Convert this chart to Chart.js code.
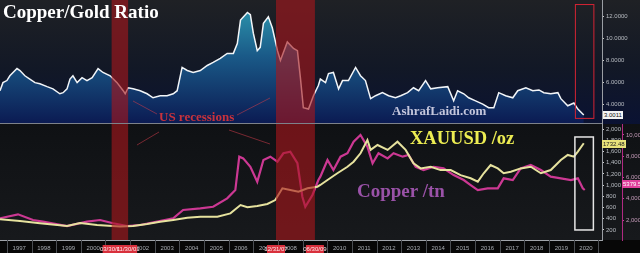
<!DOCTYPE html>
<html lang="en">
<head>
<meta charset="UTF-8">
<title>Copper/Gold Ratio</title>
<script src="https://cdn.jsdelivr.net/npm/chart.js"></script>
<style>
    body { margin: 0; background: #000; }
    #wrap { position: relative; width: 640px; height: 253px; overflow: hidden; }
    canvas { position: absolute; left: 0; }
    #topChart { top: 0; }
    #bottomChart { top: 124px; }
    svg { position: absolute; left: 0; top: 0; }
    .txt {
        position: absolute;
        font-family: "Liberation Serif", "DejaVu Serif", serif;
        font-weight: bold;
        line-height: 1;
        white-space: nowrap;
    }
    .tag {
        position: absolute;
        font-family: "Liberation Sans", Arial, sans-serif;
        font-size: 6px;
        line-height: 8px;
        height: 8px;
        padding: 0 1px;
        white-space: nowrap;
    }
</style>
</head>
<body>
<div id="wrap">
    <canvas id="topChart" width="640" height="124"></canvas>
    <canvas id="bottomChart" width="640" height="129"></canvas>
    <svg width="640" height="253">
        <g stroke="rgba(205,60,75,0.55)" stroke-width="1">
            <line x1="133" y1="101" x2="157" y2="114"/>
            <line x1="137" y1="145" x2="159" y2="132"/>
            <line x1="237" y1="115" x2="270" y2="98"/>
            <line x1="229" y1="130" x2="270" y2="144"/>
        </g>
    </svg>
    <div class="txt" style="left:3px;top:2px;font-size:19px;color:#ffffff">Copper/Gold Ratio</div>
    <div class="txt" style="left:159px;top:110px;font-size:13px;color:#c8323c">US recessions</div>
    <div class="txt" style="left:392px;top:104px;font-size:13px;color:#c4c6dc">AshrafLaidi.com</div>
    <div class="txt" style="left:410px;top:129px;font-size:18.5px;color:#ecec52">XAUUSD /oz</div>
    <div class="txt" style="left:357px;top:181px;font-size:19px;color:#9a52a8">Copper /tn</div>
    <div class="tag" id="ratioTag" style="background:#f4f4f4;color:#111">3.0011</div>
    <div class="tag" id="goldTag" style="background:#e8e27a;color:#222">1732.48</div>
    <div class="tag" id="copperTag" style="background:#e0409c;color:#fff">5379.50</div>
</div>
<script>
    // x axis runs in decimal years
    const xMin = 1996.72;
    const xMax = 2021.15;
    const tickYears = [1997, 1998, 1999, 2000, 2001, 2002, 2003, 2004, 2005, 2006, 2007, 2008,
        2009, 2010, 2011, 2012, 2013, 2014, 2015, 2016, 2017, 2018, 2019, 2020];

    // US recessions
    const recessionStart = [2001.25, 2007.92];
    const recessionEnd = [2001.92, 2009.5];
    const recessionStartLabels = ["03/30/01", "12/31/07"];
    const recessionEndLabels = ["11/30/01", "06/30/09"];

    // highlighted latest period
    const highlightFrom = 2020.05;
    const highlightTo = 2020.8;

    // Copper/Gold ratio
    const ratioYears = [1996.72, 1996.84, 1997.00, 1997.12, 1997.41, 1997.53, 1997.73, 1997.93, 1998.14, 1998.34,
        1998.63, 1998.87, 1999.15, 1999.28, 1999.44, 1999.56, 1999.68, 1999.85, 2000.05, 2000.25,
        2000.46, 2000.70, 2000.90, 2001.19, 2001.47, 2001.72, 2001.80, 2001.92, 2002.12, 2002.41,
        2002.69, 2002.93, 2003.22, 2003.50, 2003.75, 2003.91, 2004.11, 2004.32, 2004.56, 2004.85,
        2005.13, 2005.37, 2005.66, 2005.94, 2006.19, 2006.35, 2006.48, 2006.76, 2006.88, 2007.00,
        2007.16, 2007.28, 2007.41, 2007.61, 2007.77, 2007.98, 2008.10, 2008.38, 2008.63, 2008.79,
        2008.91, 2009.03, 2009.24, 2009.44, 2009.64, 2009.72, 2009.93, 2010.05, 2010.25, 2010.46,
        2010.62, 2010.86, 2011.15, 2011.35, 2011.55, 2011.76, 2011.96, 2012.24, 2012.49, 2012.77,
        2012.98, 2013.26, 2013.50, 2013.71, 2013.99, 2014.20, 2014.48, 2014.89, 2015.13, 2015.29,
        2015.54, 2015.74, 2016.02, 2016.31, 2016.55, 2016.76, 2016.96, 2017.24, 2017.53, 2017.73,
        2018.06, 2018.34, 2018.59, 2018.79, 2019.07, 2019.36, 2019.48, 2019.76, 2020.01, 2020.17,
        2020.41];
    const ratioValues = [5.23, 5.97, 6.16, 6.6, 7.26, 7.08, 6.6, 6.3, 5.97, 5.87,
        5.6, 5.4, 4.95, 5.05, 5.4, 6.3, 6.6, 5.97, 6.43, 6.16,
        6.43, 7.26, 6.9, 6.6, 5.97, 5.23, 4.95, 5.5, 5.4, 5.23,
        4.95, 4.58, 4.77, 4.77, 4.95, 5.23, 7.36, 7.08, 6.9, 7.08,
        7.54, 7.82, 8.2, 8.65, 8.65, 9.55, 11.7, 12.4, 12.2, 10.5,
        8.9, 9.2, 11.4, 12.0, 11.0, 8.9, 8.0, 9.7, 9.1, 8.9,
        6.43, 3.67, 3.55, 4.77, 5.7, 6.3, 5.97, 6.8, 6.9, 5.4,
        6.16, 6.16, 7.36, 6.6, 6.16, 4.5, 4.77, 5.05, 4.77, 4.58,
        4.77, 5.05, 5.5, 5.23, 6.16, 5.4, 5.5, 5.6, 4.3, 5.23,
        4.95, 4.58, 4.3, 4.0, 3.67, 3.67, 5.05, 4.77, 4.58, 5.23,
        5.5, 5.23, 5.3, 5.05, 4.95, 5.05, 4.5, 3.85, 4.1, 3.55,
        3.0];
    const ratioTicks = [4, 6, 8, 10, 12];

    // Gold, USD per ounce
    const goldYears = [1996.72, 1997.53, 1998.34, 1999.44, 1999.97, 2000.66, 2001.59, 2002.12, 2002.69, 2003.22,
        2003.75, 2004.32, 2004.85, 2005.54, 2006.07, 2006.48, 2006.76, 2007.16, 2007.57, 2007.89,
        2008.18, 2008.50, 2008.83, 2009.20, 2009.60, 2009.72, 2010.01, 2010.41, 2010.82, 2011.07,
        2011.35, 2011.63, 2011.76, 2012.04, 2012.45, 2012.85, 2013.18, 2013.50, 2013.79, 2014.20,
        2014.60, 2015.01, 2015.41, 2015.82, 2016.11, 2016.35, 2016.63, 2016.92, 2017.16, 2017.45,
        2017.85, 2018.26, 2018.67, 2019.07, 2019.48, 2019.76, 2020.01, 2020.17, 2020.41];
    const goldValues = [391, 360, 320, 271, 325, 290, 260, 270, 307, 348,
        380, 420, 437, 437, 497, 646, 605, 630, 665, 735,
        945, 915, 884, 945, 973, 1004, 1093, 1213, 1330, 1420,
        1570, 1807, 1630, 1718, 1630, 1777, 1630, 1390, 1300, 1330,
        1270, 1270, 1180, 1123, 1063, 1213, 1360, 1300, 1213, 1240,
        1300, 1330, 1213, 1270, 1450, 1540, 1510, 1600, 1750];
    const goldTicks = [200, 400, 600, 800, 1000, 1200, 1400, 1600, 1800, 2000];

    // Copper, USD per tonne
    const copperYears = [1996.72, 1997.45, 1998.06, 1998.46, 1999.44, 2000.25, 2000.78, 2001.31, 2001.88, 2002.41,
        2003.10, 2003.75, 2004.15, 2004.85, 2005.37, 2005.94, 2006.27, 2006.43, 2006.59, 2006.88,
        2007.16, 2007.41, 2007.69, 2007.98, 2008.22, 2008.50, 2008.79, 2008.99, 2009.11, 2009.40,
        2009.64, 2009.72, 2010.01, 2010.25, 2010.54, 2010.82, 2011.07, 2011.35, 2011.63, 2011.84,
        2012.08, 2012.45, 2012.69, 2013.06, 2013.30, 2013.59, 2013.91, 2014.32, 2014.72, 2015.13,
        2015.54, 2015.82, 2016.11, 2016.51, 2016.92, 2017.16, 2017.53, 2017.85, 2018.26, 2018.67,
        2019.07, 2019.48, 2019.89, 2020.17, 2020.37, 2020.45];
    const copperValues = [2160, 2536, 2000, 1840, 1435, 1840, 2000, 1690, 1435, 1530,
        1840, 2160, 2940, 3100, 3250, 4040, 4820, 7960, 7800, 7000,
        5600, 7650, 7960, 7490, 8280, 8430, 7340, 4190, 3250, 4350,
        5760, 6080, 7650, 6700, 7960, 8280, 9370, 10000, 8900, 7340,
        8280, 7800, 8280, 7960, 8120, 7010, 6700, 7010, 6860, 6230,
        5760, 5290, 4820, 4980, 4980, 5920, 5760, 6860, 7180, 6700,
        6080, 5920, 5760, 5920, 4980, 4820];
    const copperTicks = [2000, 4000, 6000, 8000, 10000];

    const tickFont = { family: "Liberation Sans", size: 6 };

    function points(xs, ys) {
        return xs.map((x, i) => ({ x: x, y: ys[i] }));
    }

    function fixedTicks(list) {
        return scale => { scale.ticks = list.map(v => ({ value: v })); };
    }

    function fixWidth(w) {
        return scale => {
            scale.width = w;
            scale.paddingTop = 0;
            scale.paddingBottom = 0;
        };
    }

    function drawRecessions(chart) {
        const c = chart.ctx;
        const area = chart.chartArea;
        const xs = chart.scales.x;
        c.save();
        c.fillStyle = "rgba(168, 22, 28, 0.62)";
        recessionStart.forEach((s, i) => {
            const x0 = xs.getPixelForValue(s);
            const x1 = xs.getPixelForValue(recessionEnd[i]);
            c.fillRect(x0, area.top, x1 - x0, area.bottom - area.top);
        });
        c.restore();
    }

    const topPlugin = {
        id: "topPanel",
        beforeDraw(chart) {
            const c = chart.ctx;
            const g = c.createLinearGradient(0, 0, 0, chart.height);
            g.addColorStop(0, "#1f2125");
            g.addColorStop(0.55, "#121826");
            g.addColorStop(1, "#0a1233");
            c.save();
            c.fillStyle = g;
            c.fillRect(0, 0, chart.width, chart.height);
            c.restore();
        },
        afterDatasetsDraw(chart) {
            drawRecessions(chart);
        },
        afterDraw(chart) {
            const c = chart.ctx;
            const xs = chart.scales.x;
            const ys = chart.scales.y;
            c.save();
            // panel separator
            c.strokeStyle = "#7d828a";
            c.lineWidth = 1;
            c.beginPath();
            c.moveTo(0, chart.height - 0.5);
            c.lineTo(chart.chartArea.right, chart.height - 0.5);
            c.stroke();
            // highlight box
            c.strokeStyle = "#d42434";
            const x0 = xs.getPixelForValue(highlightFrom);
            const x1 = xs.getPixelForValue(highlightTo);
            const y0 = ys.getPixelForValue(13.17);
            const y1 = ys.getPixelForValue(2.74);
            c.strokeRect(x0 + 0.5, y0 + 0.5, x1 - x0, y1 - y0);
            c.restore();
        }
    };

    const bottomPlugin = {
        id: "bottomPanel",
        beforeDraw(chart) {
            const c = chart.ctx;
            const area = chart.chartArea;
            const g = c.createLinearGradient(0, 0, 0, area.bottom);
            g.addColorStop(0, "#0f1114");
            g.addColorStop(1, "#17191c");
            c.save();
            c.fillStyle = g;
            c.fillRect(0, 0, chart.width, area.bottom);
            c.fillStyle = "#070707";
            c.fillRect(0, area.bottom, chart.width, chart.height - area.bottom);
            c.restore();
        },
        afterDatasetsDraw(chart) {
            drawRecessions(chart);
        },
        afterDraw(chart) {
            const c = chart.ctx;
            const area = chart.chartArea;
            const xs = chart.scales.x;
            const ys = chart.scales.y;
            c.save();
            // year separators in the axis band
            c.strokeStyle = "#4a4d52";
            c.lineWidth = 1;
            for (let yr = 1997; yr <= 2021; yr++) {
                const x = Math.round(xs.getPixelForValue(yr)) + 0.5;
                if (x > area.right) break;
                c.beginPath();
                c.moveTo(x, area.bottom);
                c.lineTo(x, chart.height);
                c.stroke();
            }
            // recession date tags
            c.font = "6px 'Liberation Sans'";
            c.textAlign = "center";
            c.textBaseline = "middle";
            const tags = [];
            recessionStart.forEach((s, i) => {
                tags.push([s, recessionStartLabels[i]]);
                tags.push([recessionEnd[i], recessionEndLabels[i]]);
            });
            tags.forEach(([v, label]) => {
                const x = xs.getPixelForValue(v);
                c.fillStyle = "#d8303c";
                c.fillRect(x - 9, area.bottom + 5, 18, 8);
                c.fillStyle = "#ffe8ea";
                c.fillText(label, x, area.bottom + 9);
            });
            // highlight box
            c.strokeStyle = "#e6e6e6";
            c.lineWidth = 1.5;
            const x0 = xs.getPixelForValue(highlightFrom);
            const x1 = xs.getPixelForValue(highlightTo);
            const y0 = ys.getPixelForValue(1861);
            const y1 = ys.getPixelForValue(200);
            c.strokeRect(x0, y0, x1 - x0, y1 - y0);
            c.restore();
        }
    };

    const topChart = new Chart(document.getElementById("topChart"), {
        type: "line",
        data: {
            datasets: [{
                data: points(ratioYears, ratioValues),
                borderColor: "#f2f5f8",
                borderWidth: 1.5,
                pointRadius: 0,
                tension: 0,
                fill: "start",
                backgroundColor: ctx => {
                    const area = ctx.chart.chartArea;
                    if (!area) return "rgba(20,60,110,0.8)";
                    const g = ctx.chart.ctx.createLinearGradient(0, area.top, 0, area.bottom);
                    g.addColorStop(0, "#2f9db2");
                    g.addColorStop(0.45, "#1a5a88");
                    g.addColorStop(1, "#0b1a52");
                    return g;
                }
            }]
        },
        options: {
            responsive: false,
            animation: false,
            devicePixelRatio: 1,
            layout: { padding: 0, autoPadding: false },
            plugins: { legend: { display: false }, tooltip: { enabled: false } },
            scales: {
                x: { type: "linear", min: xMin, max: xMax, display: false },
                y: {
                    position: "right",
                    min: 2.18,
                    max: 13.54,
                    afterBuildTicks: fixedTicks(ratioTicks),
                    afterFit: fixWidth(38),
                    border: { display: true, color: "#9a9ea4", width: 1 },
                    grid: { drawOnChartArea: false, drawTicks: true, tickLength: 2, color: "#c8c8c8" },
                    ticks: {
                        font: tickFont,
                        color: "#b8bcc2",
                        padding: 2,
                        callback: v => v.toFixed(4)
                    }
                }
            }
        },
        plugins: [topPlugin]
    });

    const bottomChart = new Chart(document.getElementById("bottomChart"), {
        type: "line",
        data: {
            datasets: [{
                label: "XAUUSD",
                data: points(goldYears, goldValues),
                yAxisID: "y",
                borderColor: "#e6e29e",
                borderWidth: 2,
                pointRadius: 0,
                tension: 0
            }, {
                label: "Copper",
                data: points(copperYears, copperValues),
                yAxisID: "y2",
                borderColor: "#cc3893",
                borderWidth: 2.2,
                pointRadius: 0,
                tension: 0
            }]
        },
        options: {
            responsive: false,
            animation: false,
            devicePixelRatio: 1,
            layout: { padding: 0, autoPadding: false },
            plugins: { legend: { display: false }, tooltip: { enabled: false } },
            scales: {
                x: {
                    type: "linear",
                    min: xMin,
                    max: xMax,
                    afterBuildTicks: scale => {
                        scale.ticks = tickYears.map(yr => ({ value: yr + 0.5 }));
                    },
                    afterFit: scale => {
                        scale.height = 13;
                        scale.paddingLeft = 0;
                        scale.paddingRight = 0;
                    },
                    border: { display: true, color: "#a0a4aa", width: 1 },
                    grid: { drawOnChartArea: false, drawTicks: false, color: "rgba(0,0,0,0)" },
                    ticks: {
                        font: tickFont,
                        color: "#a8acb2",
                        padding: 5,
                        autoSkip: false,
                        maxRotation: 0,
                        callback: v => String(Math.floor(v))
                    }
                },
                y: {
                    position: "right",
                    weight: 0,
                    min: 21,
                    max: 2093,
                    afterBuildTicks: fixedTicks(goldTicks),
                    afterFit: fixWidth(20),
                    border: { display: true, color: "#9a9ea4", width: 1 },
                    grid: { drawOnChartArea: false, drawTicks: true, tickLength: 2, color: "#d0d0d0" },
                    ticks: { font: tickFont, color: "#b8bcc2", padding: 2 }
                },
                y2: {
                    position: "right",
                    weight: 1,
                    min: 118,
                    max: 11034,
                    afterBuildTicks: fixedTicks(copperTicks),
                    afterFit: fixWidth(18),
                    border: { display: true, color: "#b02a82", width: 1 },
                    grid: { drawOnChartArea: false, drawTicks: true, tickLength: 2, color: "#c0409a" },
                    ticks: { font: tickFont, color: "#c49ab8", padding: 2 }
                }
            }
        },
        plugins: [bottomPlugin]
    });

    // last value tags sit on their own axes
    function placeTag(id, scale, offsetY, left) {
        const el = document.getElementById(id);
        const v = parseFloat(el.textContent);
        el.style.left = left + "px";
        el.style.top = Math.round(offsetY + scale.getPixelForValue(v) - 4) + "px";
    }
    placeTag("ratioTag", topChart.scales.y, 0, topChart.scales.y.left + 1);
    placeTag("goldTag", bottomChart.scales.y, 124, bottomChart.scales.y.left);
    placeTag("copperTag", bottomChart.scales.y2, 124, bottomChart.scales.y2.left);
</script>
</body>
</html>
